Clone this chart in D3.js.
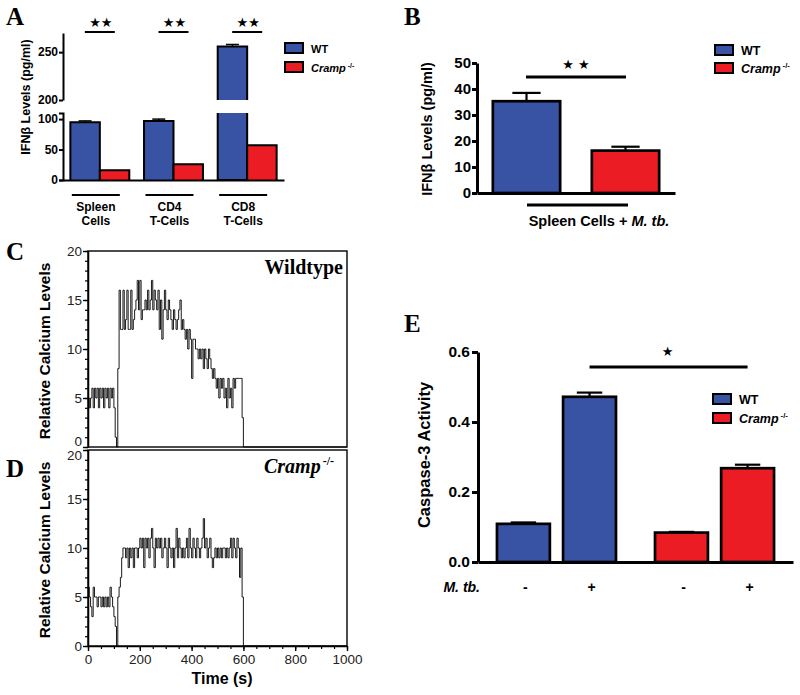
<!DOCTYPE html>
<html>
<head>
<meta charset="utf-8">
<script src="https://cdn.jsdelivr.net/npm/d3@7"></script>
<style>
body { margin: 0; background: #fff; }
svg { display: block; }
</style>
</head>
<body>
<script>
// ---------- data ----------
var genotypes = ["WT", "Cramp"];
var genotypeColors = ["#3953a4", "#ec1c24"];

// A: IFNb by cell type
var aGroups = ["Spleen", "CD4", "CD8"];
var aGroupLabels = [["Spleen", "Cells"], ["CD4", "T-Cells"], ["CD8", "T-Cells"]];
var aWT = [95, 97, 256];
var aWTErr = [2, 3, 2];
var aCramp = [16, 26, 57];
var aCrampErr = [0, 0, 0];

// B: IFNb, spleen cells + M. tb.
var bValues = [35.3, 16.3];
var bErrors = [3.2, 1.5];

// C / D: relative calcium, one sample every 5 s from t = 0
var traceStep = 5;
var wildtypeTrace = [5,4,5,6,4,6,5,6,4,6,5,6,4,6,5,6,4,6,5,6,
  4,1,0,8,
  16,12,12,16,12,13,16,12,12,16,12,13,
  14,15,17,14,17,13,14,14,15,14,16,14,
  15,17,14,16,15,14,16,12,15,11,14,16,
  14,13,15,14,13,12,14,13,12,13,14,15,
  12,13,12,11,12,10,12,11,7,11,11,10,
  10,9,10,9,10,8,10,9,8,10,9,8,
  7,8,7,6,7,5,7,6,7,5,6,4,
  7,5,6,4,7,6,7,7,7,7,7,3,
  0];
var crampTrace = [6,5,4,3,6,5,5,4,5,5,4,5,4,5,4,5,4,6,5,4,
  3,2,0,5,
  6,7,9,10,10,9,10,8,10,9,10,8,
  10,10,9,10,11,10,11,8,11,10,11,9,
  11,12,10,8,11,10,11,10,11,9,10,11,
  10,8,11,10,9,10,8,10,12,9,11,10,
  9,10,9,10,11,9,12,10,9,11,10,9,
  11,10,9,10,11,13,10,11,9,10,11,9,
  8,9,10,9,10,9,10,9,10,10,9,10,
  9,10,11,9,11,10,9,11,10,7,10,5,
  0];
var traceEnd = 1000;
var timeTicks = [0, 200, 400, 600, 800, 1000];
var calciumTicks = [0, 5, 10, 15, 20];

// E: caspase-3 activity
var eTreatment = ["-", "+"];
var eWT = [0.109, 0.472];
var eWTErr = [0.004, 0.012];
var eCramp = [0.084, 0.268];
var eCrampErr = [0.002, 0.010];

// ---------- helpers ----------
var sans = "'Liberation Sans', Arial, Helvetica, sans-serif";
var serif = "'Liberation Serif', 'Times New Roman', serif";

var svg = d3.select("body").append("svg")
    .attr("width", 800)
    .attr("height", 695);
svg.append("rect").attr("width", 800).attr("height", 695).attr("fill", "#fff");

function styleAxis(g, size, weight, sw, color) {
  g.selectAll("path, line").attr("stroke", "#000").attr("stroke-width", sw);
  g.selectAll("text")
    .attr("font-family", sans)
    .attr("font-size", size)
    .attr("font-weight", weight)
    .attr("fill", color || "#000");
}

function panelLetter(t, x, y) {
  svg.append("text").attr("x", x).attr("y", y)
    .attr("font-family", serif).attr("font-weight", "bold").attr("font-size", 25)
    .text(t);
}

function yLabel(t, x, y, size) {
  svg.append("text")
    .attr("transform", "translate(" + x + "," + y + ") rotate(-90)")
    .attr("text-anchor", "middle")
    .attr("font-family", sans).attr("font-weight", "bold").attr("font-size", size)
    .text(t);
}

function legend(x, y, size, gap) {
  genotypes.forEach(function(g, i) {
    svg.append("rect")
      .attr("x", x).attr("y", y + i * gap)
      .attr("width", 18).attr("height", 10)
      .attr("fill", genotypeColors[i]).attr("stroke", "#000").attr("stroke-width", 2);
    var t = svg.append("text")
      .attr("x", x + 26).attr("y", y + i * gap + 9.5)
      .attr("font-family", sans).attr("font-weight", "bold").attr("font-size", size);
    if (i == 0) {
      t.text("WT");
    } else {
      t.append("tspan").attr("font-style", "italic").text("Cramp");
      t.append("tspan").attr("font-size", size * 0.62).attr("dx", 2).attr("dy", -size * 0.35).text("-/-");
    }
  });
}

function stars(t, x, y, size) {
  svg.append("text").attr("x", x).attr("y", y)
    .attr("text-anchor", "middle")
    .attr("font-family", "'DejaVu Sans', sans-serif").attr("font-size", size)
    .text(t);
}

function hline(x1, x2, y, sw) {
  svg.append("line").attr("x1", x1).attr("x2", x2).attr("y1", y).attr("y2", y)
    .attr("stroke", "#000").attr("stroke-width", sw);
}

// ---------- A ----------
panelLetter("A", 6, 25);

var aX = d3.scaleBand().domain(aGroups).range([63, 284]).paddingInner(0.2).paddingOuter(0.1);
var aX1 = d3.scaleBand().domain(genotypes).range([0, aX.bandwidth()]);
var aYLow = d3.scaleLinear().domain([0, 110]).range([180, 113]);
var aYHigh = d3.scaleLinear().domain([200, 270]).range([100, 33]);

var aBars = [];
aGroups.forEach(function(grp, i) {
  aBars.push({group: grp, genotype: "WT", value: aWT[i], err: aWTErr[i]});
  aBars.push({group: grp, genotype: "Cramp", value: aCramp[i], err: aCrampErr[i]});
});

function aYof(v) { return v > 110 ? aYHigh(v) : aYLow(v); }

aBars.forEach(function(d) {
  var x0 = aX(d.group) + aX1(d.genotype);
  var w = aX1.bandwidth();
  var col = genotypeColors[genotypes.indexOf(d.genotype)];
  var pieces = d.value > 110
    ? [[aYLow(0), aYLow(110)], [aYHigh(200), aYHigh(d.value)]]
    : [[aYLow(0), aYLow(d.value)]];
  pieces.forEach(function(p, k) {
    var top = p[1], bot = p[0];
    var path = (d.value > 110)
      ? (k == 0 ? "M" + x0 + "," + top + "V" + bot + "H" + (x0 + w) + "V" + top
                : "M" + x0 + "," + bot + "V" + top + "H" + (x0 + w) + "V" + bot)
      : "M" + x0 + "," + bot + "V" + top + "H" + (x0 + w) + "V" + bot;
    svg.append("rect").attr("x", x0).attr("y", top).attr("width", w).attr("height", bot - top)
      .attr("fill", col);
    svg.append("path").attr("d", path).attr("fill", "none")
      .attr("stroke", "#000").attr("stroke-width", 2);
  });
  if (d.err > 0) {
    var cx = x0 + w / 2;
    svg.append("line").attr("x1", cx).attr("x2", cx)
      .attr("y1", aYof(d.value)).attr("y2", aYof(d.value + d.err))
      .attr("stroke", "#000").attr("stroke-width", 1.5);
    hline(cx - w * 0.22, cx + w * 0.22, aYof(d.value + d.err), 1.5);
  }
});

var aLowAxis = svg.append("g").attr("transform", "translate(63,0)")
  .call(d3.axisLeft(aYLow).tickValues([0, 50, 100]).tickSize(4).tickSizeOuter(4).tickPadding(1));
styleAxis(aLowAxis, 12, "bold", 2);
var aHighAxis = svg.append("g").attr("transform", "translate(63,0)")
  .call(d3.axisLeft(aYHigh).tickValues([200, 250]).tickSize(4).tickSizeOuter(0).tickPadding(1));
styleAxis(aHighAxis, 12, "bold", 2);
var aXAxis = svg.append("g").attr("transform", "translate(0,180)")
  .call(d3.axisBottom(aX).tickSize(0).tickSizeOuter(0).tickFormat(""));
styleAxis(aXAxis, 12, "bold", 2);

aGroups.forEach(function(grp, i) {
  var c = aX(grp) + aX.bandwidth() / 2;
  hline(c - 15, c + 15, 32, 2);
  stars("\u2605\u2605", c + 1, 27, 13);
  hline(c - 28, c + 20, 195, 2);
  aGroupLabels[i].forEach(function(l, k) {
    svg.append("text").attr("x", c - 4).attr("y", 211 + k * 14)
      .attr("text-anchor", "middle")
      .attr("font-family", sans).attr("font-weight", "bold").attr("font-size", 12)
      .text(l);
  });
});

yLabel("IFN\u03b2 Levels (pg/ml)", 30, 97, 12.5);
legend(285, 43, 11, 19);

// ---------- B ----------
panelLetter("B", 404, 25);

var bX = d3.scaleBand().domain(genotypes).range([477, 675]).paddingInner(0.32).paddingOuter(0.16);
var bY = d3.scaleLinear().domain([0, 50]).range([193, 63]);

genotypes.forEach(function(g, i) {
  svg.append("rect")
    .attr("x", bX(g)).attr("y", bY(bValues[i]))
    .attr("width", bX.bandwidth()).attr("height", bY(0) - bY(bValues[i]))
    .attr("fill", genotypeColors[i]).attr("stroke", "#000").attr("stroke-width", 2.7);
  var cx = bX(g) + bX.bandwidth() / 2;
  svg.append("line").attr("x1", cx).attr("x2", cx)
    .attr("y1", bY(bValues[i])).attr("y2", bY(bValues[i] + bErrors[i]))
    .attr("stroke", "#000").attr("stroke-width", 2.2);
  hline(cx - bX.bandwidth() * 0.21, cx + bX.bandwidth() * 0.21, bY(bValues[i] + bErrors[i]), 2.2);
});

var bYAxis = svg.append("g").attr("transform", "translate(477,0)")
  .call(d3.axisLeft(bY).tickValues([0, 10, 20, 30, 40, 50]).tickSize(5).tickSizeOuter(0).tickPadding(1));
styleAxis(bYAxis, 15, "bold", 3);
var bXAxis = svg.append("g").attr("transform", "translate(0,193)")
  .call(d3.axisBottom(bX).tickSize(0).tickSizeOuter(0).tickFormat(""));
styleAxis(bXAxis, 15, "bold", 3);

hline(526, 626, 77, 3);
stars("\u2605 \u2605", 576, 69, 13);
hline(527, 628, 205, 3);
var bCap = svg.append("text").attr("x", 599).attr("y", 226).attr("text-anchor", "middle")
  .attr("font-family", sans).attr("font-weight", "bold").attr("font-size", 14.5);
bCap.append("tspan").text("Spleen Cells + ");
bCap.append("tspan").attr("font-style", "italic").text("M. tb.");

yLabel("IFN\u03b2 Levels (pg/ml)", 432, 129, 14.5);
legend(715, 45, 12.5, 18);

// ---------- C / D ----------
var tX = d3.scaleLinear().domain([0, 1000]).range([88, 347]);
var cY = d3.scaleLinear().domain([0, 20]).range([447, 251]);
var dY = d3.scaleLinear().domain([0, 20]).range([646, 450]);

function tracePanel(trace, yScale, letter, letterY, nudge) {
  var pts = trace.map(function(v, i) { return [i * traceStep, v]; });
  pts.push([traceEnd, 0]);
  var line = d3.line()
    .x(function(d) { return tX(d[0]); })
    .y(function(d) { return yScale(d[1]); })
    .curve(d3.curveStepAfter);
  svg.append("path").datum(pts).attr("d", line)
    .attr("fill", "none").attr("stroke", "#000").attr("stroke-width", 0.9);

  svg.append("rect")
    .attr("x", tX(0)).attr("y", yScale(20))
    .attr("width", tX(1000) - tX(0)).attr("height", yScale(0) - yScale(20))
    .attr("fill", "none").attr("stroke", "#000").attr("stroke-width", 1.4);

  var minor = svg.append("g").attr("transform", "translate(" + tX(0) + ",0)")
    .call(d3.axisLeft(yScale).tickValues(d3.range(0, 21)).tickSize(3).tickSizeOuter(0).tickFormat(""));
  styleAxis(minor, 14, "normal", 1.2);
  var major = svg.append("g").attr("transform", "translate(" + tX(0) + ",0)")
    .call(d3.axisLeft(yScale).tickValues(calciumTicks).tickSize(5).tickSizeOuter(0).tickPadding(1));
  styleAxis(major, 13.5, "normal", 1.4, "#222");
  // the C "0" and D "20" labels sit nearly on top of each other; pull them apart a little
  major.selectAll(".tick text").attr("y", function(d) { return nudge(d); });

  panelLetter(letter, 6, letterY);
  yLabel("Relative Calcium Levels", 50, (yScale(0) + yScale(20)) / 2 + 2, 15.5);
}

tracePanel(wildtypeTrace, cY, "C", 260, function(d) { return d == 0 ? -6 : 0; });
tracePanel(crampTrace, dY, "D", 477, function(d) { return d == 20 ? 5 : 0; });

svg.append("text").attr("x", 343).attr("y", 274).attr("text-anchor", "end")
  .attr("font-family", serif).attr("font-weight", "bold").attr("font-size", 20)
  .text("Wildtype");
var dHead = svg.append("text").attr("x", 334).attr("y", 473).attr("text-anchor", "end")
  .attr("font-family", serif).attr("font-weight", "bold").attr("font-size", 20);
dHead.append("tspan").attr("font-style", "italic").text("Cramp");
dHead.append("tspan").attr("font-size", 12).attr("dx", 2).attr("dy", -8).text("-/-");

var tMinor = svg.append("g").attr("transform", "translate(0," + dY(0) + ")")
  .call(d3.axisBottom(tX).tickValues(d3.range(0, 1001, 50)).tickSize(3).tickSizeOuter(0).tickFormat(""));
styleAxis(tMinor, 14, "normal", 1.2);
var tMajor = svg.append("g").attr("transform", "translate(0," + dY(0) + ")")
  .call(d3.axisBottom(tX).tickValues(timeTicks).tickFormat(d3.format("d"))
    .tickSize(5).tickSizeOuter(0).tickPadding(3));
styleAxis(tMajor, 13.5, "normal", 1.4, "#222");

svg.append("text").attr("x", 222).attr("y", 684).attr("text-anchor", "middle")
  .attr("font-family", sans).attr("font-weight", "bold").attr("font-size", 16)
  .text("Time (s)");

// ---------- E ----------
panelLetter("E", 404, 332);

var eX = d3.scaleBand().domain(genotypes).range([478, 793]).paddingInner(0.247).paddingOuter(0.12);
var eX1 = d3.scaleBand().domain(eTreatment).range([0, eX.bandwidth()]).paddingInner(0.2);
var eY = d3.scaleLinear().domain([0, 0.6]).range([562, 352]);

var eBars = [];
genotypes.forEach(function(g, i) {
  eTreatment.forEach(function(t, j) {
    eBars.push({
      genotype: g, treat: t,
      value: i == 0 ? eWT[j] : eCramp[j],
      err: i == 0 ? eWTErr[j] : eCrampErr[j],
      color: genotypeColors[i]
    });
  });
});

eBars.forEach(function(d) {
  var x0 = eX(d.genotype) + eX1(d.treat);
  var w = eX1.bandwidth();
  var cx = x0 + w / 2;
  svg.append("line").attr("x1", cx).attr("x2", cx)
    .attr("y1", eY(d.value)).attr("y2", eY(d.value + d.err))
    .attr("stroke", "#000").attr("stroke-width", 2.2);
  hline(cx - w * 0.24, cx + w * 0.24, eY(d.value + d.err), 2.2);
  svg.append("rect")
    .attr("x", x0).attr("y", eY(d.value))
    .attr("width", w).attr("height", eY(0) - eY(d.value))
    .attr("fill", d.color).attr("stroke", "#000").attr("stroke-width", 2.7);
  svg.append("text").attr("x", cx + 2).attr("y", 592).attr("text-anchor", "middle")
    .attr("font-family", sans).attr("font-weight", "bold").attr("font-size", 14)
    .text(d.treat);
});

var eYAxis = svg.append("g").attr("transform", "translate(478,0)")
  .call(d3.axisLeft(eY).tickValues([0, 0.2, 0.4, 0.6]).tickFormat(d3.format(".1f"))
    .tickSize(6).tickSizeOuter(0).tickPadding(2));
styleAxis(eYAxis, 15.5, "bold", 3);
var eXAxis = svg.append("g").attr("transform", "translate(0,562)")
  .call(d3.axisBottom(eX).tickSize(0).tickSizeOuter(0).tickFormat(""));
styleAxis(eXAxis, 15, "bold", 3);

svg.append("text").attr("x", 480).attr("y", 592).attr("text-anchor", "end")
  .attr("font-family", sans).attr("font-weight", "bold").attr("font-style", "italic").attr("font-size", 14)
  .text("M. tb.");

var eLeft = eX("WT") + eX1("+") + eX1.bandwidth() / 2;
var eRight = eX("Cramp") + eX1("+") + eX1.bandwidth() / 2;
hline(eLeft, eRight, 367, 3);
stars("\u2605", (eLeft + eRight) / 2 - 1, 356, 13);

yLabel("Caspase-3 Activity", 430, 455, 16.5);
legend(713, 394, 12.5, 19);
</script>
</body>
</html>
